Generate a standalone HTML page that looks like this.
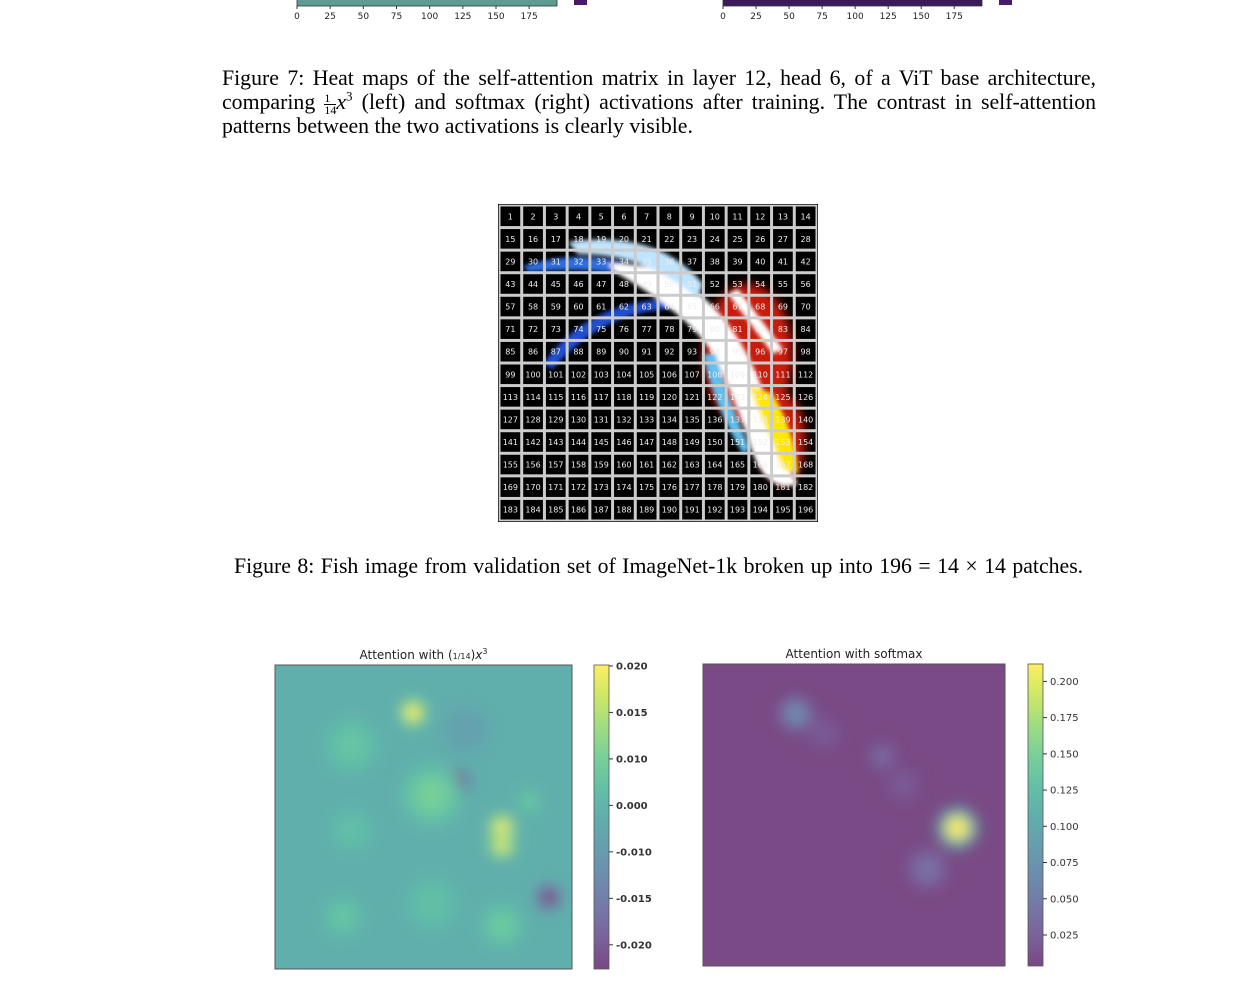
<!DOCTYPE html>
<html><head><meta charset="utf-8">
<style>
html,body{margin:0;padding:0;background:#fff;}
body{width:1240px;height:998px;position:relative;overflow:hidden;font-family:"Liberation Serif",serif;}
.cap{position:absolute;font-size:21.8px;line-height:24px;color:#000;white-space:nowrap;}
.just{text-align:justify;text-align-last:justify;width:874px;white-space:normal;}
svg text{font-family:"DejaVu Sans","Liberation Sans",sans-serif;}
</style></head>
<body>
<svg id="topstrip" width="1240" height="30" style="position:absolute;left:0;top:0"></svg>

<div class="cap just" style="left:222px;top:66px;">Figure 7: Heat maps of the self-attention matrix in layer 12, head 6, of a ViT base architecture,</div>
<div class="cap just" style="left:222px;top:90px;">comparing <span style="display:inline-block;vertical-align:middle;font-size:12px;line-height:11px;text-align:center;"><span style="display:block;border-bottom:1px solid #000;">1</span><span style="display:block">14</span></span><i>x</i><sup style="font-size:13px;line-height:0">3</sup> (left) and softmax (right) activations after training. The contrast in self-attention</div>
<div class="cap" style="left:222px;top:114px;">patterns between the two activations is clearly visible.</div>

<svg id="fish" width="320" height="318" style="position:absolute;left:498px;top:204px"></svg>

<div class="cap" style="left:234px;top:554px;word-spacing:1px;">Figure 8: Fish image from validation set of ImageNet-1k broken up into 196 = 14 × 14 patches.</div>

<svg id="heat" width="1240" height="360" style="position:absolute;left:0;top:638px"></svg>

<script>
// ---------- data ----------
const stripTicks=[0,25,50,75,100,125,150,175];
const leftTicks=["0.020","0.015","0.010","0.000","-0.010","-0.015","-0.020"];
const leftTickVals=[0.020,0.015,0.010,0.005,0.000,-0.005,-0.010];
const rightTicks=["0.200","0.175","0.150","0.125","0.100","0.075","0.050","0.025"];
const rightTickVals=[0.200,0.175,0.150,0.125,0.100,0.075,0.050,0.025];
const leftBase=0.0037;
const leftPeakX=[6.5,8.6,10.7,12.9,3.6,7.4,3.6,10.7,3.2,9.0,12.0,7.4,10.7];
const leftPeakY=[2.2,5.4,7.5,10.7,3.7,6.0,7.6,12.0,11.6,3.0,6.3,11.0,8.3];
const leftPeakV=[0.020,-0.0126,0.020,-0.0126,0.008,0.010,0.007,0.009,0.008,0.001,0.009,0.007,0.018];
const leftPeakR=[0.8,0.8,0.8,0.8,1.6,1.8,1.3,1.3,1.2,1.6,0.7,1.6,0.8];
const rightBase=0.005;
const rightPeakX=[4.3,5.6,8.3,9.3,11.8,10.4];
const rightPeakY=[2.3,3.2,4.3,5.6,7.6,9.5];
const rightPeakV=[0.07,0.02,0.035,0.02,0.21,0.04];
const rightPeakR=[1.0,1.0,0.8,1.0,1.2,1.2];

const NS="http://www.w3.org/2000/svg";
function mk(p,tag,attrs){const e=document.createElementNS(NS,tag);for(const k in attrs)e.setAttribute(k,attrs[k]);p.appendChild(e);return e;}
const vir=[[68,1,84],[72,40,120],[62,74,137],[49,104,142],[38,130,142],[31,158,137],[53,183,121],[109,205,89],[180,222,44],[253,231,37]];
function viridis(t){t=Math.max(0,Math.min(1,t));const f=t*(vir.length-1),i=Math.min(vir.length-2,Math.floor(f)),r=f-i;
 const c=vir[i].map((v,k)=>v+(vir[i+1][k]-v)*r);const a=0.72;return `rgb(${c.map(v=>Math.round(v*a+255*(1-a))).join(",")})`;}

// ---------- top strip ----------
const stripSvg=document.getElementById('topstrip');
function strip(x0,x1,cbx,fill,name){
 const r=mk(stripSvg,'rect',{x:x0,y:-2,width:x1-x0,height:8,fill:fill,stroke:'#333','stroke-width':0.8});
 
 
 const sx=v=>x0+v/196*(x1-x0);
 stripTicks.forEach(t=>{mk(stripSvg,'line',{x1:sx(t),x2:sx(t),y1:6,y2:9,stroke:'#333'});
  const tx=mk(stripSvg,'text',{x:sx(t),y:19,'font-size':9,'text-anchor':'middle',fill:'#222'});tx.textContent=t;
  
  });
 const c=mk(stripSvg,'rect',{x:cbx,y:0,width:13,height:5,fill:'#4a1a6a'});
 
 
}
strip(297,557,574,'#5e9c92','left');
strip(723,982,999,'#3b1a5c','right');

// ---------- fish ----------
const fish=document.getElementById('fish');
const defs=mk(fish,'defs',{});
const fb=mk(defs,'filter',{id:'fb',x:'-20%',y:'-20%',width:'140%',height:'140%'});mk(fb,'feGaussianBlur',{stdDeviation:5});
const fb2=mk(defs,'filter',{id:'fb2'});mk(fb2,'feGaussianBlur',{stdDeviation:2});
mk(fish,'rect',{x:0,y:0,width:320,height:318,fill:'#000'});
const g=mk(fish,'g',{filter:'url(#fb)'});
mk(g,'ellipse',{cx:250,cy:150,rx:45,ry:70,fill:'#c81a0a'});
mk(g,'ellipse',{cx:285,cy:235,rx:22,ry:45,fill:'#c81a0a'});
const g2=mk(fish,'g',{filter:'url(#fb2)'});
mk(g2,'path',{d:'M25 62 Q110 35 200 90 L212 100 Q140 58 30 68 Z',fill:'#2d6ee0'});
mk(g2,'path',{d:'M45 160 Q90 95 180 95 L195 105 Q110 100 55 165 Z',fill:'#2050d0'});
mk(g2,'path',{d:'M110 60 Q180 55 230 120 Q260 160 275 220 Q285 260 300 280 Q270 290 255 250 Q240 200 215 150 Q190 110 120 70 Z',fill:'#fff'});
mk(g2,'path',{d:'M70 38 Q160 25 205 80 L200 95 Q150 50 80 50 Z',fill:'#bfe4ff'});
mk(g2,'path',{d:'M250 180 Q270 230 285 265 L300 270 Q298 230 275 190 Z',fill:'#ffe800'});
mk(g2,'path',{d:'M205 150 Q215 200 245 250 L252 245 Q228 190 218 150 Z',fill:'#60c0f0'});
mk(g2,'path',{d:'M230 90 L275 150 L285 145 L240 85 Z',fill:'#fff'});
const cw=318/14,ch=316/14;
for(let r=0;r<14;r++)for(let c=0;c<14;c++){
 const x=1+c*cw,y=1+r*ch;
 mk(fish,'rect',{x:x+0.6,y:y+0.6,width:cw-1.2,height:ch-1.2,fill:'none',stroke:'#ccc','stroke-width':1.8});
 const t=mk(fish,'text',{x:x+cw/2,y:y+ch/2+3,'font-size':8,'text-anchor':'middle',fill:'#eee'});
 t.textContent=r*14+c+1;
 
 
}

// ---------- heatmaps ----------
const heat=document.getElementById('heat');
const hd=mk(heat,'defs',{});
const hf=mk(hd,'filter',{id:'hb',x:'-50%',y:'-50%',width:'200%',height:'200%'});mk(hf,'feGaussianBlur',{stdDeviation:7});
function panel(o){
 const oy=638;
 const X=o.x,Y=o.y-oy,W=o.w,H=o.h;
 const norm=v=>(v-o.vmin)/(o.vmax-o.vmin);
 const cp=mk(hd,'clipPath',{id:o.id+'c'});mk(cp,'rect',{x:X,y:Y,width:W,height:H});
 const bg=mk(heat,'rect',{x:X,y:Y,width:W,height:H,fill:viridis(norm(o.base))});
 
 
 const gg=mk(heat,'g',{'clip-path':`url(#${o.id}c)`});
 const gb=mk(gg,'g',{filter:'url(#hb)'});
 const sx=v=>X+v/14*W,sy=v=>Y+v/14*H;
 o.px.forEach((px,i)=>{
  const e=mk(gb,'ellipse',{cx:sx(px),cy:sy(o.py[i]),rx:o.pr[i]*W/14*0.8,ry:o.pr[i]*H/14*0.8,fill:viridis(norm((o.pv[i]+o.base)/2))});
  
  
  const e2=mk(gb,'ellipse',{cx:sx(px),cy:sy(o.py[i]),rx:o.pr[i]*W/14*0.45,ry:o.pr[i]*H/14*0.45,fill:viridis(norm(o.pv[i]))});
  
  
 });
 mk(heat,'rect',{x:X,y:Y,width:W,height:H,fill:'none',stroke:'#555','stroke-width':1});
 const tt=mk(heat,'text',{x:X+W/2,y:Y-6,'font-size':12,'text-anchor':'middle',fill:'#222'});
 if(o.frac){
  const a=mk(tt,'tspan',{});a.textContent='Attention with (';
  const b=mk(tt,'tspan',{'font-size':8});b.textContent='1/14';
  const c=mk(tt,'tspan',{});c.textContent=')';
  const d=mk(tt,'tspan',{'font-style':'italic'});d.textContent='x';
  const e=mk(tt,'tspan',{'font-size':8,dy:-5});e.textContent='3';
 } else tt.textContent=o.title;
 
 
 const lg=mk(hd,'linearGradient',{id:o.id+'g',x1:0,y1:1,x2:0,y2:0});
 for(let k=0;k<=10;k++)mk(lg,'stop',{offset:k/10,'stop-color':viridis(k/10)});
 const cb=mk(heat,'rect',{x:o.cbx,y:Y,width:15,height:H,fill:`url(#${o.id}g)`,stroke:'#555','stroke-width':0.8});
 
 
 const cy=v=>Y+H-norm(v)*H;
 o.ticks.forEach((t,i)=>{const y=cy(o.tv[i]);
  mk(heat,'line',{x1:o.cbx+15,x2:o.cbx+19,y1:y,y2:y,stroke:'#333'});
  const tx=mk(heat,'text',{x:o.cbx+22,y:y+3.5,'font-size':10,fill:'#333','font-weight':o.bold?'bold':'normal'});
  tx.textContent=t;
  
  });
}
panel({id:'cubic',frac:true,x:275,y:665,w:297,h:304,cbx:594,vmin:-0.0126,vmax:0.0201,base:leftBase,px:leftPeakX,py:leftPeakY,pv:leftPeakV,pr:leftPeakR,ticks:leftTicks,tv:leftTickVals,bold:true,title:''});
panel({id:'softmax',frac:false,x:703,y:664,w:302,h:302,cbx:1028,vmin:0.0036,vmax:0.212,base:rightBase,px:rightPeakX,py:rightPeakY,pv:rightPeakV,pr:rightPeakR,ticks:rightTicks,tv:rightTickVals,bold:false,title:'Attention with softmax'});
</script>
</body></html>
